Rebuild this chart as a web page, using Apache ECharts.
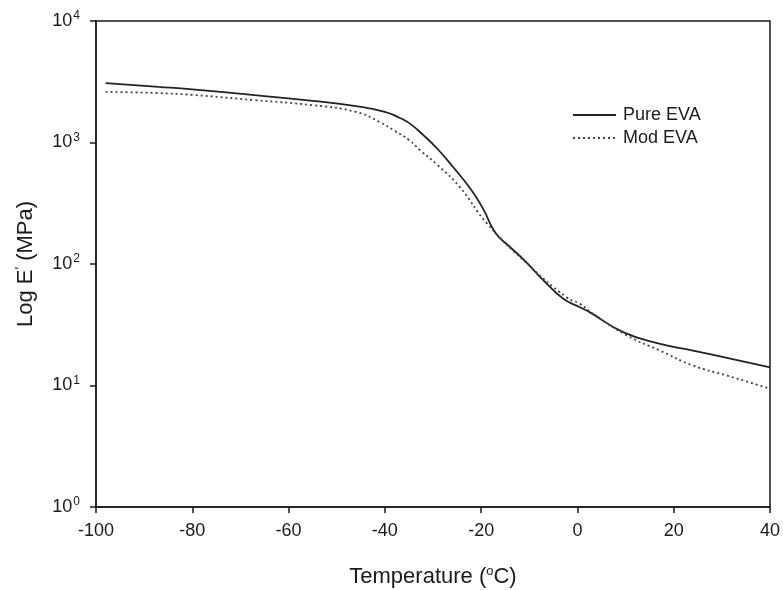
<!DOCTYPE html>
<html>
<head>
<meta charset="utf-8">
<script src="https://cdn.jsdelivr.net/npm/echarts@6/dist/echarts.min.js"></script>
<style>
  html, body { margin: 0; padding: 0; background: #fff; }
  #chart { width: 783px; height: 590px; }
</style>
</head>
<body>
<div id="chart"></div>
<script>
// temperature (°C) and storage modulus E' (MPa)
const pureTemp = [-98, -87, -80, -67, -55, -46, -40, -37, -35, -32, -29, -26, -22, -19.5, -17, -14, -11, -7, -3, 0.5, 2.6, 9.5, 17, 24, 32, 40]
const pureE = [3080, 2870, 2735, 2450, 2200, 1990, 1790, 1600, 1450, 1150, 880, 640, 405, 280, 180, 138, 107, 73, 52, 44, 40, 27.5, 22.1, 19.4, 16.6, 14.1]

const modTemp = [-98, -87, -80, -67, -55, -46, -41, -38, -35, -32.7, -29, -24.4, -18.8, -10.5, -2.2, 0.5, 3.2, 10.3, 17, 24, 31, 40]
const modE = [2610, 2550, 2466, 2230, 2028, 1786, 1469, 1250, 1050, 865, 650, 428, 216, 101, 53, 47, 39, 25.8, 19.5, 14.6, 12.1, 9.4]

const seriesNames = ['Pure EVA', 'Mod EVA']

const pair = (xs, ys) => xs.map((x, i) => [x, ys[i]])

const chart = echarts.init(document.getElementById('chart'))
const font = 'Liberation Sans'
const ink = '#1a1a1a'

chart.setOption({
  animation: false,
  textStyle: { fontFamily: font },
  grid: {
    left: 96, right: 13, top: 21, bottom: 83,
    outerBoundsMode: 'none',
    show: true, borderColor: ink, borderWidth: 1.5
  },
  legend: {
    orient: 'vertical',
    left: 567, top: 101,
    itemWidth: 43, itemHeight: 14, itemGap: 5,
    itemStyle: { opacity: 0 },
    textStyle: { fontFamily: font, fontSize: 18, lineHeight: 18, color: ink, padding: [0, 0, 0, 2] },
    data: seriesNames
  },
  xAxis: {
    type: 'value',
    min: -100, max: 40, interval: 20,
    splitLine: { show: false },
    axisLine: { onZero: false, lineStyle: { color: ink, width: 1.5 } },
    axisTick: { length: 6, lineStyle: { color: ink, width: 1.5 } },
    axisLabel: { fontSize: 18, color: ink, margin: 15 },
    name: 'Temperature ({s|o}C)',
    nameLocation: 'middle', nameGap: 58,
    nameTextStyle: {
      fontSize: 22, color: ink,
      rich: { s: { fontSize: 13, verticalAlign: 'top', padding: [0, 0, 10, 0], color: ink } }
    }
  },
  yAxis: {
    type: 'log', logBase: 10,
    min: 1, max: 10000,
    splitLine: { show: false },
    minorTick: { show: false },
    axisLine: { onZero: false, lineStyle: { color: ink, width: 1.5 } },
    axisTick: { length: 6, lineStyle: { color: ink, width: 1.5 } },
    axisLabel: {
      margin: 16, color: ink,
      formatter: v => '{b|10}{s|' + Math.round(Math.log10(v)) + '}',
      rich: {
        b: { fontSize: 18, color: ink },
        s: { fontSize: 12, color: ink, verticalAlign: 'top', padding: [0, 0, 10, 1] }
      }
    },
    name: "Log E{s|'} (MPa)",
    nameLocation: 'middle', nameGap: 58,
    nameTextStyle: {
      fontSize: 22, color: ink,
      rich: { s: { fontSize: 14, verticalAlign: 'top', padding: [0, 0, 10, 0], color: ink } }
    }
  },
  series: [
    {
      name: seriesNames[0], type: 'line', symbol: 'none', smooth: 0.5,
      lineStyle: { color: '#222', width: 1.8 },
      itemStyle: { color: '#222' },
      data: pair(pureTemp, pureE)
    },
    {
      name: seriesNames[1], type: 'line', symbol: 'none', smooth: 0.5,
      lineStyle: { color: '#444', width: 1.8, type: [2, 3] },
      itemStyle: { color: '#444' },
      data: pair(modTemp, modE)
    }
  ]
})
</script>
</body>
</html>
